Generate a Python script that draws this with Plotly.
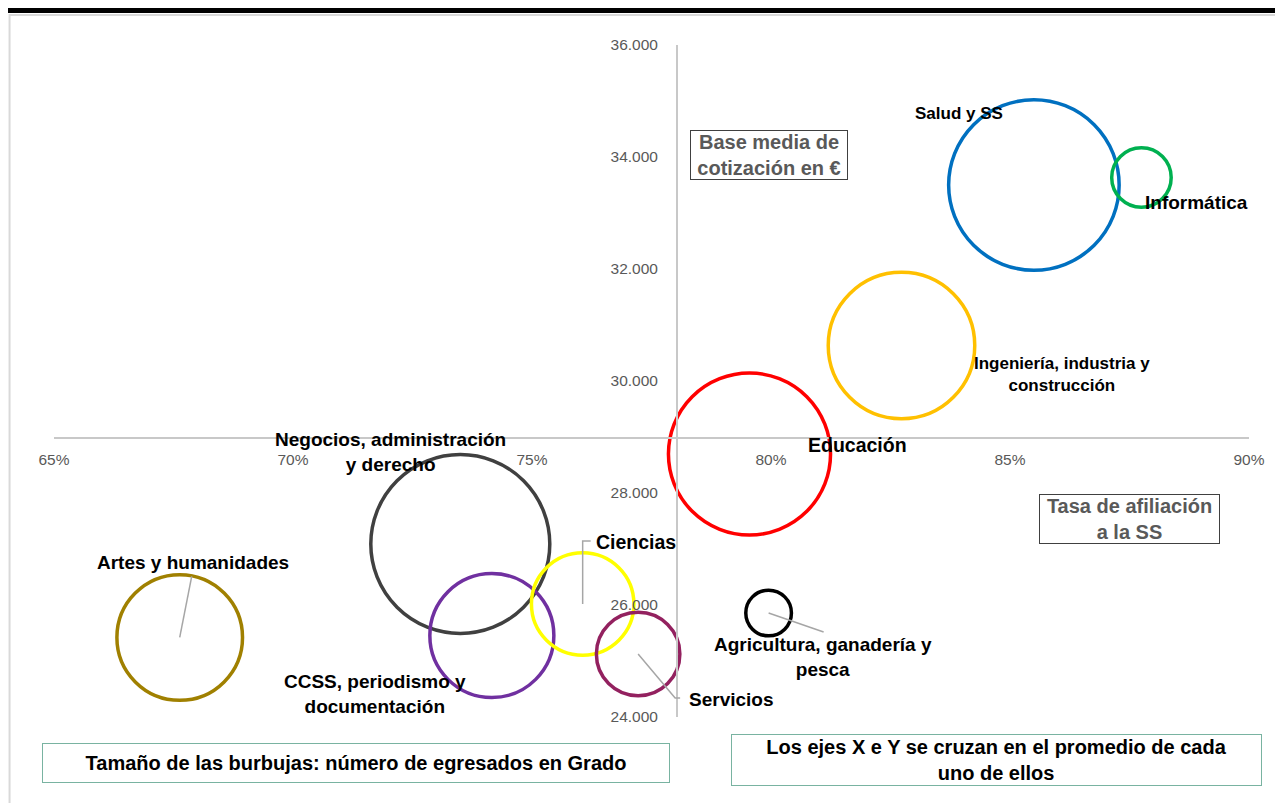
import plotly.graph_objects as go

# Datos (tasa de afiliación, base media, egresados estimados)
areas = [
    'Salud y SS',
    'Informática',
    'Ingeniería, industria y<br>construcción',
    'Educación',
    'Negocios, administración<br>y derecho',
    'Artes y humanidades',
    'CCSS, periodismo y<br>documentación',
    'Ciencias',
    'Servicios',
    'Agricultura, ganadería y<br>pesca',
]
afiliacion = [0.8550, 0.8775, 0.8273, 0.7955, 0.7350, 0.6763, 0.7416, 0.7606, 0.7722, 0.7995]
base_media = [33500, 33634, 30634, 28696, 27089, 25420, 25455, 26018, 25125, 25857]
egresados = [36300, 4420, 26800, 32800, 40000, 19700, 19200, 13100, 8700, 2600]

# los ejes se cruzan en el promedio
media_afiliacion = 0.7803
media_base = 28980

x_range = [0.65, 0.90]
y_range = [24000, 36000]

colores = ['#0070C0', '#00B050', '#FFC000', '#FF0000', '#404040',
           '#A08000', '#7030A0', '#FFFF00', '#93215F', '#000000']

# posición de las etiquetas respecto al centro de cada burbuja (px)
label_shift = [(-75, 72), (55, -25), (161, -29), (108, 9), (-70, 92),
               (13, 75), (-117, -58), (53, 62), (93, -45), (54, -44)]
label_size = [17, 19, 17, 19.5, 19, 19, 19, 19.5, 19, 19]

# líneas guía (px, relativas al centro)
leaders = {
    5: 'M0,0 L12,61',
    7: 'M0,0 V63 H8',
    8: 'M0,0 L37,-44 H42',
    9: 'M0,0 L55,-19',
}

FONT = "'Liberation Sans', Arial, sans-serif"
max_diam = 179

fig = go.Figure([
    go.Scatter(
        x=afiliacion,
        y=base_media,
        mode='markers',
        marker=dict(
            size=egresados,
            sizemode='area',
            sizeref=2 * max(egresados) / max_diam ** 2,
            color='rgba(0,0,0,0)',
            opacity=1,
            line=dict(color=colores, width=3.5),
        ),
        hovertext=[a.replace('<br>', ' ') for a in areas],
        hoverinfo='text',
    )
])

annotations = []
for i, area in enumerate(areas):
    annotations.append(dict(
        x=afiliacion[i], y=base_media[i], xref='x', yref='y',
        text=area, showarrow=False,
        xanchor='center', yanchor='middle',
        xshift=label_shift[i][0], yshift=label_shift[i][1],
        font=dict(size=label_size[i], color='black', family=FONT, weight='bold'),
    ))

shapes = []
for i, path in leaders.items():
    shapes.append(dict(
        type='path', path=path,
        xref='x', yref='y',
        xsizemode='pixel', ysizemode='pixel',
        xanchor=afiliacion[i], yanchor=base_media[i],
        line=dict(color='#a6a6a6', width=1.5),
    ))

# marco exterior y barra superior
shapes.append(dict(type='rect', xref='paper', yref='paper',
                   x0=-0.0372, x1=1.0268, y0=1.0446, y1=-0.14,
                   line=dict(color='#d9d9d9', width=2), layer='below'))
shapes.append(dict(type='rect', xref='paper', yref='paper',
                   x0=-0.0385, x1=1.04, y0=1.0476, y1=1.0551,
                   fillcolor='black', line=dict(width=0)))

# cuadros de texto
box = dict(xref='paper', yref='paper', showarrow=False,
           xanchor='center', yanchor='middle', bgcolor='white', borderwidth=1)
annotations += [
    dict(box, x=0.5983, y=0.8363,
         text='Base media de<br>cotización en €',
         font=dict(size=20, color='#595959', family=FONT, weight='bold'),
         bordercolor='#404040', borderpad=0, width=156),
    dict(box, x=0.9004, y=0.2946,
         text='Tasa de afiliación<br>a la SS',
         font=dict(size=20, color='#595959', family=FONT, weight='bold'),
         bordercolor='#404040', borderpad=0, width=179),
    dict(box, x=0.2527, y=-0.0685,
         text='Tamaño de las burbujas: número de egresados en Grado',
         font=dict(size=20, color='black', family=FONT, weight='bold'),
         bordercolor='#79b3a1', borderpad=8, width=610),
    dict(box, x=0.7883, y=-0.064,
         text='Los ejes X e Y se cruzan en el promedio de cada<br>uno de ellos',
         font=dict(size=20, color='black', family=FONT, weight='bold'),
         bordercolor='#79b3a1', borderpad=1, width=527),
]

fig.update_layout(
    width=1283,
    height=803,
    # la página añade 8 px de margen al cuerpo
    margin=dict(l=46, r=42, t=37, b=94),
    paper_bgcolor='white',
    plot_bgcolor='white',
    showlegend=False,
    separators=',.',
    font=dict(family=FONT),
    xaxis=dict(
        range=x_range,
        dtick=0.05,
        tickformat='.0%',
        showgrid=False,
        zeroline=False,
        showline=True,
        linecolor='#c8c8c8',
        linewidth=1.5,
        anchor='free',
        position=(media_base - y_range[0]) / (y_range[1] - y_range[0]),
        ticks='outside',
        ticklen=8,
        tickcolor='rgba(0,0,0,0)',
        tickfont=dict(size=15.5, color='#595959'),
        automargin=False,
    ),
    yaxis=dict(
        range=y_range,
        dtick=2000,
        tickformat=',',
        showgrid=False,
        zeroline=False,
        showline=True,
        linecolor='#c8c8c8',
        linewidth=1.5,
        anchor='free',
        position=(media_afiliacion - x_range[0]) / (x_range[1] - x_range[0]),
        ticks='outside',
        ticklen=15,
        tickcolor='rgba(0,0,0,0)',
        tickfont=dict(size=15.5, color='#595959'),
        automargin=False,
    ),
    annotations=annotations,
    shapes=shapes,
)

fig.write_html("out.html")
